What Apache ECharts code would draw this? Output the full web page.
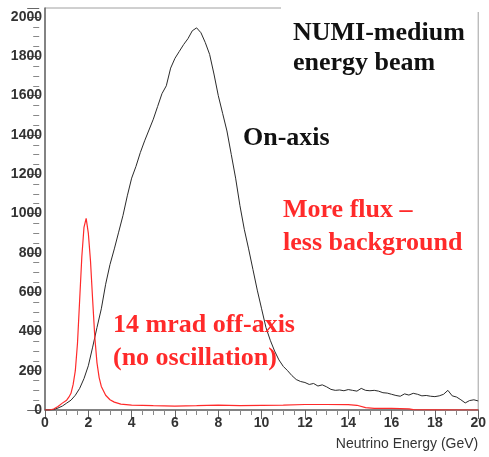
<!DOCTYPE html>
<html>
<head>
<meta charset="utf-8">
<script src="https://cdn.jsdelivr.net/npm/echarts@6/dist/echarts.min.js"></script>
<style>
html, body { margin: 0; padding: 0; background: #fff; }
#chart { width: 489px; height: 457px; }
</style>
</head>
<body>
<div id="chart"></div>
<script>
// on-axis flux, read every 0.2 GeV from 0 to 20
var onEnergy = [
    0, 0.2, 0.4, 0.6, 0.8, 1.0, 1.2, 1.4, 1.6, 1.8,
    2.0, 2.2, 2.4, 2.6, 2.8, 3.0, 3.2, 3.4, 3.6, 3.8,
    4.0, 4.2, 4.4, 4.6, 4.8, 5.0, 5.2, 5.4, 5.6, 5.8,
    6.0, 6.2, 6.4, 6.6, 6.8, 7.0, 7.2, 7.4, 7.6, 7.8,
    8.0, 8.2, 8.4, 8.6, 8.8, 9.0, 9.2, 9.4, 9.6, 9.8,
    10.0, 10.2, 10.4, 10.6, 10.8, 11.0, 11.2, 11.4, 11.6, 11.8,
    12.0, 12.2, 12.4, 12.6, 12.8, 13.0, 13.2, 13.4, 13.6, 13.8,
    14.0, 14.2, 14.4, 14.6, 14.8, 15.0, 15.2, 15.4, 15.6, 15.8,
    16.0, 16.2, 16.4, 16.6, 16.8, 17.0, 17.2, 17.4, 17.6, 17.8,
    18.0, 18.2, 18.4, 18.6, 18.8, 19.0, 19.2, 19.4, 19.6, 19.8, 20.0
];
var onFlux = [
    0, 0, 2, 10, 20, 35, 50, 75, 110, 160,
    225, 320, 420, 515, 640, 740, 820, 905, 990, 1090,
    1180, 1240, 1310, 1370, 1425, 1480, 1545, 1610, 1650, 1740,
    1790, 1825, 1860, 1890, 1930, 1945, 1920, 1870, 1810, 1710,
    1600, 1510, 1420, 1300, 1180, 1040, 920, 820, 715, 610,
    515, 420, 355, 300, 255, 222, 200, 175, 155, 145,
    140, 130, 135, 122, 128, 118, 105, 100, 102, 98,
    104, 100, 96, 110, 100, 98, 100, 96, 88, 86,
    80, 74, 70, 82, 76, 85, 80, 72, 74, 70,
    68, 72, 80, 100, 72, 66, 52, 36, 48, 52, 46
];

// 14 mrad off-axis flux
var offEnergy = [
    0, 0.2, 0.4, 0.6, 0.8, 1.0, 1.1, 1.2, 1.3, 1.4,
    1.5, 1.6, 1.7, 1.8, 1.9, 2.0, 2.1, 2.2, 2.3, 2.4,
    2.5, 2.6, 2.8, 3.0, 3.2, 3.5, 4.0, 5.0, 6.0, 7.0,
    8.0, 9.0, 10.0, 11.0, 12.0, 13.0, 14.0, 14.4, 14.8, 15.2,
    16.0, 16.8, 17.0, 18.0, 20.0
];
var offFlux = [
    0, 0, 5, 18, 35, 50, 65, 85, 130, 200,
    340, 560, 780, 930, 975, 900, 760, 560, 370, 240,
    165, 120, 75, 52, 40, 30, 25, 22, 20, 22,
    25, 22, 24, 25, 28, 28, 27, 24, 12, 8,
    8, 6, 2, 1, 0
];

var yTicks = [0, 200, 400, 600, 800, 1000, 1200, 1400, 1600, 1800, 2000];
var xTicks = [0, 2, 4, 6, 8, 10, 12, 14, 16, 18, 20];

function pairs(xs, ys) {
    var out = [];
    for (var i = 0; i < xs.length; i++) {
        out.push([xs[i], ys[i]]);
    }
    return out;
}

function label(text, x, y, color) {
    return {
        type: 'text',
        x: x,
        y: y,
        z: 10,
        style: {
            text: text,
            fill: color,
            font: 'bold 26px "Liberation Serif", "Times New Roman", serif',
            verticalAlign: 'middle'
        }
    };
}

// inside ticks: label-less axes from the opposite side, moved across the frame
function tickAxis(pos, min, max, interval, offset, len, minor) {
    return {
        type: 'value',
        position: pos,
        min: min,
        max: max,
        interval: interval,
        offset: offset,
        axisLine: { show: false, onZero: false },
        axisLabel: { show: false },
        axisTick: { show: !minor, inside: true, length: len, lineStyle: { color: '#666', width: 1 } },
        minorTick: { show: minor, splitNumber: 4, length: len, lineStyle: { color: '#888', width: 1 } },
        splitLine: { show: false },
        minorSplitLine: { show: false }
    };
}

var red = '#ff2a2a';
var axisGray = '#6a6a6a';
var yMax = 2046;
var plotW = 439;
var plotH = 402;

var chart = echarts.init(document.getElementById('chart'));

var xMain = {
    type: 'value',
    position: 'bottom',
    min: 0,
    max: 20,
    interval: 2,
    name: 'Neutrino Energy (GeV)',
    nameLocation: 'end',
    nameGap: 0,
    nameTextStyle: {
        fontFamily: 'Liberation Sans',
        fontSize: 14,
        color: '#333',
        align: 'right',
        verticalAlign: 'top',
        padding: [27, 0, 0, 0]
    },
    axisLine: { show: true, lineStyle: { color: axisGray, width: 1.5 } },
    axisTick: { show: false },
    axisLabel: {
        margin: 6,
        fontFamily: 'Liberation Sans',
        fontSize: 14,
        fontWeight: 'bold',
        color: '#333',
        formatter: function (v) {
            return xTicks.indexOf(v) >= 0 ? String(v) : '';
        }
    },
    splitLine: { show: false }
};

var yMain = {
    type: 'value',
    position: 'left',
    min: 0,
    max: yMax,
    interval: 200,
    axisLine: { show: true, lineStyle: { color: axisGray, width: 1.5 } },
    axisTick: { show: false },
    axisLabel: {
        margin: 3,
        fontFamily: 'Liberation Sans',
        fontSize: 14,
        fontWeight: 'bold',
        color: '#333',
        formatter: function (v) {
            return yTicks.indexOf(v) >= 0 ? String(v) : '';
        }
    },
    splitLine: { show: false }
};

var option = {
    animation: false,
    backgroundColor: '#fff',
    grid: {
        left: 45,
        right: 4,
        top: 8,
        bottom: 47,
        show: true,
        borderColor: '#a0a0a0',
        borderWidth: 1
    },
    xAxis: [
        xMain,
        tickAxis('top', 0, 20, 2, -plotH, 9, false),
        tickAxis('top', 0, 20, 2, -plotH, 5, true)
    ],
    yAxis: [
        yMain,
        tickAxis('right', 0, yMax, 200, -plotW, 12, false),
        tickAxis('right', 0, yMax, 200, -plotW, 6, true)
    ],
    series: [
        {
            name: 'On-axis',
            type: 'line',
            xAxisIndex: 0,
            yAxisIndex: 0,
            data: pairs(onEnergy, onFlux),
            symbol: 'none',
            lineStyle: { color: '#2a2a2a', width: 1 },
            z: 3
        },
        {
            name: '14 mrad off-axis',
            type: 'line',
            xAxisIndex: 0,
            yAxisIndex: 0,
            data: pairs(offEnergy, offFlux),
            symbol: 'none',
            lineStyle: { color: red, width: 1.2 },
            z: 4
        }
    ],
    graphic: [
        {
            type: 'rect',
            left: 281,
            top: 4,
            z: 9,
            shape: { width: 202, height: 8 },
            style: { fill: '#fff' }
        },
        label('NUMI-medium', 293, 33, '#111'),
        label('energy beam', 293, 63, '#111'),
        label('On-axis', 243, 138, '#111'),
        label('More flux \u2013', 283, 210, red),
        label('less background', 283, 243, red),
        label('14 mrad off-axis', 113, 325, red),
        label('(no oscillation)', 113, 358, red)
    ]
};

chart.setOption(option);
</script>
</body>
</html>
